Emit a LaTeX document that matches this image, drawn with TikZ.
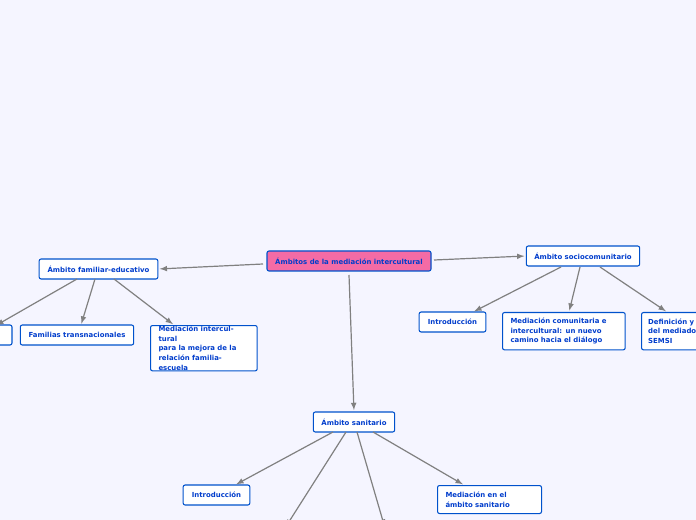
\documentclass[tikz,border=0pt]{standalone}
\usepackage{fontspec}
\setmainfont{DejaVu Sans}
\begin{document}
\begin{tikzpicture}[x=0.75pt,y=-0.75pt,
  box/.style={draw=blue!60!cyan!80!black,line width=0.8pt,rounded corners=1.5pt,fill=white,
     font=\bfseries\fontsize{5.2}{7.2}\selectfont,text=blue!70!cyan!80!black,inner sep=0pt,align=left},
  edge/.style={draw=gray,line width=0.9pt,-latex,shorten >=1pt}]
\fill[blue!4] (0,0) rectangle (696,520);
\useasboundingbox (0,0) rectangle (696,520);
\clip (0,0) rectangle (696,520);
\node[box,fill=magenta!45!pink,minimum width=123pt,minimum height=15pt,align=center] (root) at (349,261) {Ámbitos de la mediación intercultural};
\node[box,minimum width=89pt,minimum height=15pt,align=center] (fam) at (98.5,269) {Ámbito familiar-educativo};
\node[box,minimum width=48pt,minimum height=15pt] (lcut) at (-20,335) {};
\node[box,minimum width=85pt,minimum height=15pt,align=center] (ft) at (77,335) {Familias transnacionales};
\node[box,minimum width=80pt,minimum height=34pt,text width=68pt,anchor=north west] (mi) at (150,325) {Mediación intercultural\\para la mejora de la\\relación familia-\\escuela};
\node[box,minimum width=85pt,minimum height=15pt,align=center] (soc) at (583,256) {Ámbito sociocomunitario};
\node[box,minimum width=50pt,minimum height=15pt,align=center] (int1) at (452.5,322) {Introducción};
\node[box,minimum width=92pt,minimum height=28pt,text width=80pt,anchor=north west] (mc) at (502,312) {Mediación comunitaria e\\intercultural: un nuevo\\camino hacia el diálogo};
\node[box,minimum width=65pt,minimum height=28pt,text width=55pt,anchor=north west] (def) at (641,312) {Definición y\\del mediado\\SEMSI};
\node[box,minimum width=61pt,minimum height=15pt,align=center] (san) at (354,422) {Ámbito sanitario};
\node[box,minimum width=50pt,minimum height=15pt,align=center] (int2) at (216.5,495) {Introducción};
\node[box,minimum width=78pt,minimum height=21pt,text width=66pt,anchor=north west] (mes) at (437,485) {Mediación en el\\ámbito sanitario};
\coordinate (o1) at (285,528);
\coordinate (o2) at (385,528);
\draw[edge] (263,264) -- (fam.east);
\draw[edge] (434,260) -- (soc.west);
\draw[edge] (349,275) -- (san.north);
\draw[edge] (77,279) -- (-5,326);
\draw[edge] (95,279) -- (81,325);
\draw[edge] (114,279) -- (174,325);
\draw[edge] (561,267) -- (473,312);
\draw[edge] (580,267) -- (569,312);
\draw[edge] (600,267) -- (667,312);
\draw[edge] (333,432) -- (235,485);
\draw[edge] (373,432) -- (464,485);
\draw[edge] (346,432) -- (o1);
\draw[edge] (357,432) -- (o2);
\end{tikzpicture}
\end{document}
